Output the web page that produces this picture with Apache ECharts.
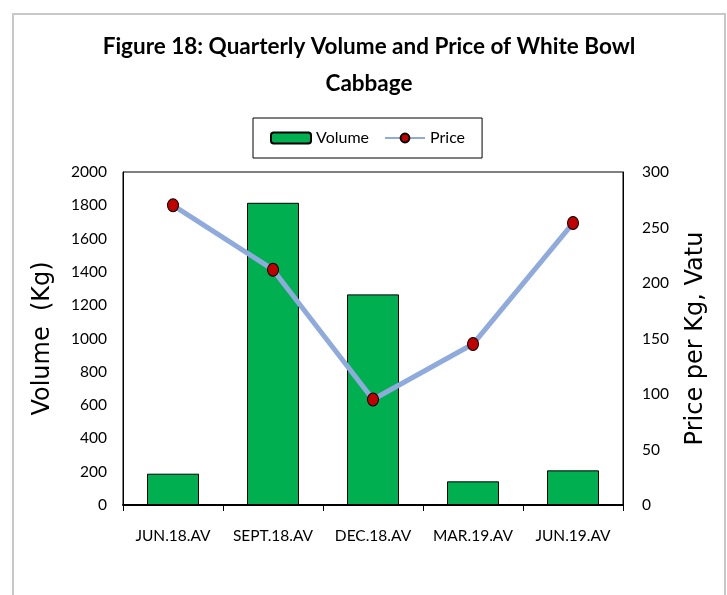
<!DOCTYPE html>
<html>
<head>
<meta charset="utf-8">
<script src="https://cdn.jsdelivr.net/npm/echarts@6/dist/echarts.min.js"></script>
<style>
html,body{margin:0;padding:0;background:#fff;}
#chart{width:727px;height:595px;}
</style>
</head>
<body>
<div id="chart"></div>
<script>
var categories = ['JUN.18.AV', 'SEPT.18.AV', 'DEC.18.AV', 'MAR.19.AV', 'JUN.19.AV'];
var volumeValues = [188, 1815, 1265, 142, 208];
var priceValues = [270, 212, 95, 145, 254];

var chart = echarts.init(document.getElementById('chart'));
var tickFont = {fontFamily: 'Lato', fontSize: 15.5, color: '#000'};
function plain(v) { return String(v); }
chart.setOption({
  backgroundColor: '#fff',
  animation: false,
  graphic: [{
    type: 'rect', silent: true,
    shape: {x: 13, y: 14, width: 712, height: 620},
    style: {fill: 'none', stroke: '#c8c8c8', lineWidth: 2}
  }],
  title: {
    text: 'Figure 18: Quarterly Volume and Price of White Bowl\nCabbage',
    left: 369, top: 28, textAlign: 'center', padding: 0,
    textStyle: {fontFamily: 'Lato', fontWeight: 'bold', fontSize: 22.5, lineHeight: 37, color: '#000'}
  },
  legend: {
    left: 253, top: 118,
    padding: [12, 17],
    borderColor: '#000', borderWidth: 1,
    itemWidth: 40, itemHeight: 11, itemGap: 15,
    textStyle: {fontFamily: 'Lato', fontSize: 16, color: '#000'},
    data: ['Volume', 'Price']
  },
  grid: {
    left: 123, right: 104, top: 172, bottom: 90,
    show: true, borderColor: '#000', borderWidth: 1
  },
  xAxis: {
    type: 'category', data: categories,
    axisLine: {lineStyle: {color: '#000', width: 2}},
    axisTick: {show: true, length: 6, lineStyle: {color: '#000'}},
    axisLabel: Object.assign({margin: 23, interval: 0}, tickFont)
  },
  yAxis: [{
    type: 'value', min: 0, max: 2000, interval: 200,
    name: 'Volume  (Kg)', nameLocation: 'middle', nameGap: 68, nameRotate: 90,
    nameTextStyle: {fontFamily: 'DejaVu Sans', fontSize: 24, color: '#000'},
    axisLine: {show: true, lineStyle: {color: '#000', width: 1}},
    axisTick: {show: false},
    splitLine: {show: false},
    axisLabel: Object.assign({margin: 16, formatter: plain}, tickFont)
  }, {
    type: 'value', min: 0, max: 300, interval: 50, position: 'right',
    name: 'Price per Kg, Vatu', nameLocation: 'middle', nameGap: 61, nameRotate: 90,
    nameTextStyle: {fontFamily: 'DejaVu Sans', fontSize: 24, color: '#000'},
    axisLine: {show: true, lineStyle: {color: '#000', width: 1}},
    axisTick: {show: false},
    splitLine: {show: false},
    axisLabel: Object.assign({margin: 19, formatter: plain}, tickFont)
  }],
  series: [{
    name: 'Volume', type: 'bar', data: volumeValues, barWidth: '52%',
    itemStyle: {color: '#00b050', borderColor: '#000', borderWidth: 1}
  }, {
    name: 'Price', type: 'line', yAxisIndex: 1, data: priceValues,
    lineStyle: {color: '#8faadc', width: 5},
    symbol: 'circle', symbolSize: [11, 13],
    itemStyle: {color: '#c00000', borderColor: '#000', borderWidth: 1}
  }]
});
</script>
</body>
</html>
